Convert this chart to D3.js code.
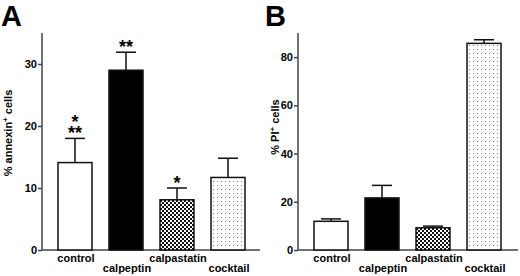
<!DOCTYPE html>
<html>
<head>
<meta charset="utf-8">
<script src="https://cdn.jsdelivr.net/npm/d3@7"></script>
<style>
    body { margin: 0; background: #fff; }
    svg { display: block; font-family: "Liberation Sans", Arial, sans-serif; }
    .tick text { font-size: 11px; font-weight: bold; fill: #000; }
    .axis-label { font-size: 11px; font-weight: bold; fill: #000; }
    .cat-label { font-size: 11px; font-weight: bold; fill: #000; }
    .panel-letter { font-size: 29px; font-weight: bold; fill: #000; }
    .stars { font-size: 18px; font-weight: bold; fill: #000; }
</style>
</head>
<body>
<div class="vis"></div>
<script>
(function () {
    const svgWidth = 520;
    const svgHeight = 276;

    // data
    var categories = ["control", "calpeptin", "calpastatin", "cocktail"];
    var fills = ["white", "black", "url(#checks)", "url(#dots)"];

    var annexinMean = [14.1, 29.0, 8.1, 11.7];
    var annexinErr = [3.9, 2.9, 1.9, 3.1];
    var annexinStars = [["*", "**"], ["**"], ["*"], []];
    var annexinTicks = [0, 10, 20, 30];

    var piMean = [11.9, 21.6, 9.2, 85.7];
    var piErr = [1.0, 5.2, 0.7, 1.5];
    var piTicks = [0, 20, 40, 60, 80];

    const svg = d3.select('.vis')
        .append("svg")
            .attr('width', svgWidth)
            .attr('height', svgHeight);

    // fill patterns
    var defs = svg.append("defs");
    var checks = defs.append("pattern")
        .attr("id", "checks")
        .attr("patternUnits", "userSpaceOnUse")
        .attr("width", 4).attr("height", 4);
    checks.append("rect").attr("width", 4).attr("height", 4).attr("fill", "#fff");
    checks.append("rect").attr("width", 2).attr("height", 2).attr("fill", "#111");
    checks.append("rect").attr("x", 2).attr("y", 2).attr("width", 2).attr("height", 2).attr("fill", "#111");

    var dots = defs.append("pattern")
        .attr("id", "dots")
        .attr("patternUnits", "userSpaceOnUse")
        .attr("width", 4).attr("height", 4);
    dots.append("rect").attr("width", 4).attr("height", 4).attr("fill", "#fff");
    dots.append("rect").attr("x", 1).attr("y", 1).attr("width", 1).attr("height", 1).attr("fill", "#777");

    function panel(opts) {
        var g = svg.append('g');

        var yScale = d3.scaleLinear()
            .domain([0, opts.yMax])
            .range([250, 33]);

        var xScale = d3.scaleBand()
            .domain(categories)
            .range(opts.xRange)
            .paddingInner(1 / 3)
            .paddingOuter(1 / 6);

        // y axis
        var yAxis = d3.axisLeft(yScale)
            .tickValues(opts.ticks)
            .tickSize(4)
            .tickPadding(1);

        var callyAxis = g.append('g')
            .attr('transform', `translate(${opts.axisX}, 0)`)
            .call(yAxis);
        callyAxis.select('.domain').remove();
        callyAxis.selectAll('.tick line').attr('stroke', '#444').attr('stroke-width', 1.5);

        g.append('line')
            .attr('x1', opts.axisX).attr('x2', opts.axisX)
            .attr('y1', yScale(opts.yMax)).attr('y2', yScale(0))
            .attr('stroke', '#444').attr('stroke-width', 1.5);

        // x axis line
        g.append('line')
            .attr('x1', opts.axisX).attr('x2', opts.xEnd)
            .attr('y1', yScale(0)).attr('y2', yScale(0))
            .attr('stroke', '#444').attr('stroke-width', 1.5);

        // bars
        g.selectAll('rect.bar')
            .data(categories)
            .enter().append('rect')
                .attr('class', 'bar')
                .attr('x', function(d) { return xScale(d); })
                .attr('y', function(d, i) { return yScale(opts.means[i]); })
                .attr('width', xScale.bandwidth())
                .attr('height', function(d, i) { return yScale(0) - yScale(opts.means[i]); })
                .attr('fill', function(d, i) { return fills[i]; })
                .attr('stroke', '#111')
                .attr('stroke-width', 1.5);

        // error bars (upper only)
        var err = g.selectAll('g.err')
            .data(categories)
            .enter().append('g')
                .attr('class', 'err')
                .attr('stroke', '#111')
                .attr('stroke-width', 1.5);
        err.append('line')
            .attr('x1', function(d) { return xScale(d) + xScale.bandwidth() / 2; })
            .attr('x2', function(d) { return xScale(d) + xScale.bandwidth() / 2; })
            .attr('y1', function(d, i) { return yScale(opts.means[i]); })
            .attr('y2', function(d, i) { return yScale(opts.means[i] + opts.errs[i]); });
        err.append('line')
            .attr('x1', function(d) { return xScale(d) + xScale.bandwidth() / 2 - 10; })
            .attr('x2', function(d) { return xScale(d) + xScale.bandwidth() / 2 + 10; })
            .attr('y1', function(d, i) { return yScale(opts.means[i] + opts.errs[i]); })
            .attr('y2', function(d, i) { return yScale(opts.means[i] + opts.errs[i]); });

        // significance stars (one text per bar, stacked lines as tspans)
        if (opts.stars) {
            categories.forEach(function(c, i) {
                var lines = opts.stars[i];
                if (!lines.length) return;
                var top = yScale(opts.means[i] + opts.errs[i]);
                var cx = xScale(c) + xScale.bandwidth() / 2;
                var t = g.append('text')
                    .attr('class', 'stars')
                    .attr('text-anchor', 'middle')
                    .attr('x', cx)
                    .attr('y', top - 11 * (lines.length - 1) + 1);
                lines.forEach(function(s, j) {
                    t.append('tspan')
                        .attr('x', cx)
                        .attr('dy', j === 0 ? 0 : 11)
                        .text(s);
                });
            });
        }

        // category labels, staggered
        g.selectAll('text.cat-label')
            .data(categories)
            .enter().append('text')
                .attr('class', 'cat-label')
                .attr('text-anchor', 'middle')
                .attr('x', function(d) { return xScale(d) + xScale.bandwidth() / 2 + 1; })
                .attr('y', function(d, i) { return i % 2 === 0 ? 262 : 272; })
                .text(function(d) { return d; });

        // y axis title
        var title = g.append('text')
            .attr('class', 'axis-label')
            .attr('text-anchor', 'middle')
            .attr('transform', `translate(${opts.labelX}, ${opts.labelY}) rotate(-90)`);
        title.append('tspan').text(opts.labelA);
        title.append('tspan').attr('dy', -4).attr('font-size', 8).text('+');
        title.append('tspan').attr('dy', 4).text(opts.labelB);

        // panel letter
        svg.append('text')
            .attr('class', 'panel-letter')
            .attr('x', opts.letterX)
            .attr('y', 26)
            .text(opts.letter);
    }

    panel({
        letter: "A", letterX: 1,
        yMax: 35, ticks: annexinTicks,
        axisX: 42, xEnd: 260, xRange: [49.5, 253.5],
        means: annexinMean, errs: annexinErr, stars: annexinStars,
        labelX: 12, labelY: 133, labelA: "% annexin", labelB: " cells"
    });

    panel({
        letter: "B", letterX: 265,
        yMax: 90, ticks: piTicks,
        axisX: 298, xEnd: 518, xRange: [305.5, 509.5],
        means: piMean, errs: piErr, stars: null,
        labelX: 279, labelY: 127, labelA: "% PI", labelB: " cells"
    });

} (d3));
</script>
</body>
</html>
